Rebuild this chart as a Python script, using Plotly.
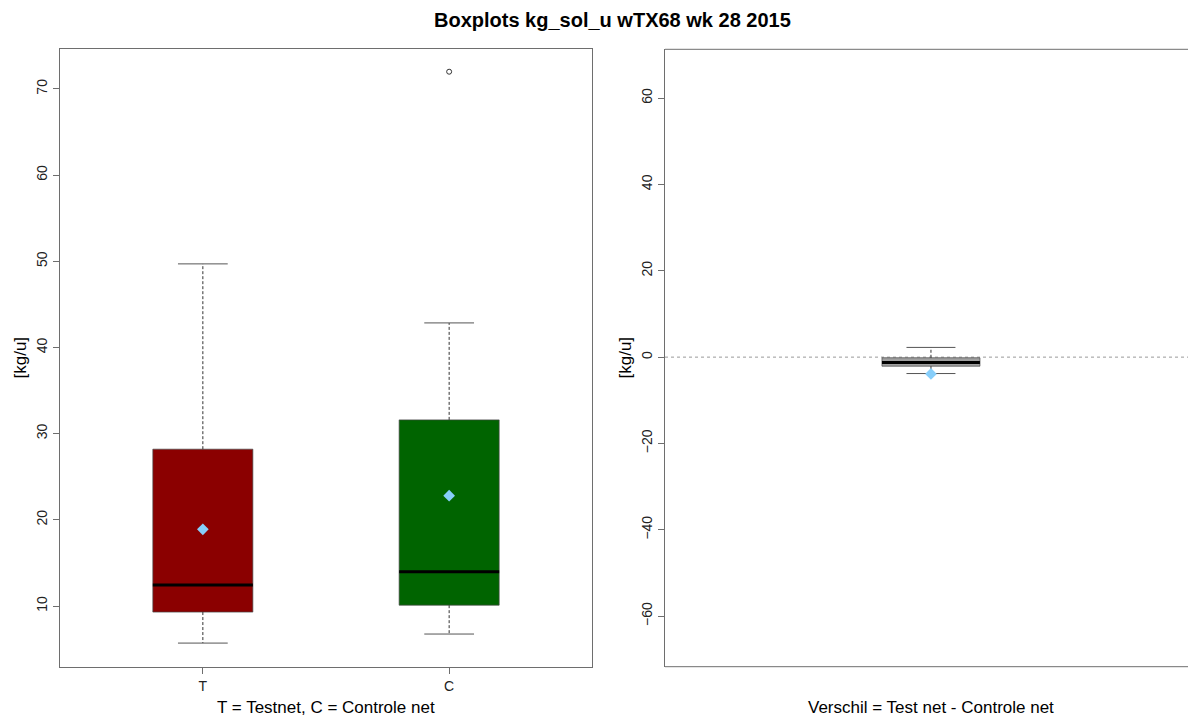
import plotly.graph_objects as go

# ---- data ----
categories = ["T", "C"]
q1 = [9.3, 10.1]
median = [12.45, 13.98]
q3 = [28.2, 31.6]
lower_whisker = [5.7, 6.75]
upper_whisker = [49.7, 42.85]
means = [18.9, 22.8]
fills = ["#8B0000", "#006400"]
outlier_cat = ["C"]
outlier_val = [72.0]

diff_label = ["Verschil"]
diff_q1 = [-2.1]
diff_median = [-1.25]
diff_q3 = [-0.15]
diff_lower = [-3.8]
diff_upper = [2.25]
diff_mean = [-3.9]

left_ticks = [10, 20, 30, 40, 50, 60, 70]
right_ticks = [-60, -40, -20, 0, 20, 40, 60]

FONT = "Liberation Sans, Arial, sans-serif"
AXC = "#6e6e6e"
W, H = 1188, 714   # page body has an 8px margin

fig = go.Figure()


def add_box(fig, pos, lo, a, m, b, hi, mean, fill, bw, cw, xa, ya):
    fig.add_trace(go.Scatter(
        x=[pos - bw, pos + bw, pos + bw, pos - bw, pos - bw],
        y=[a, a, b, b, a], mode="lines", fill="toself", fillcolor=fill,
        line=dict(color="rgba(70,70,70,0.7)", width=1),
        hoverinfo="skip", showlegend=False, xaxis=xa, yaxis=ya))
    for y0, y1 in ((b, hi), (a, lo)):
        fig.add_trace(go.Scatter(
            x=[pos, pos], y=[y0, y1], mode="lines",
            line=dict(color="#333333", width=1, dash="3px,2px"),
            hoverinfo="skip", showlegend=False, xaxis=xa, yaxis=ya))
    for yv in (hi, lo):
        fig.add_trace(go.Scatter(
            x=[pos - cw, pos + cw], y=[yv, yv], mode="lines",
            line=dict(color="#555555", width=1),
            hoverinfo="skip", showlegend=False, xaxis=xa, yaxis=ya))
    fig.add_trace(go.Scatter(
        x=[pos - bw, pos + bw], y=[m, m], mode="lines",
        line=dict(color="black", width=3),
        hoverinfo="skip", showlegend=False, xaxis=xa, yaxis=ya))
    fig.add_trace(go.Scatter(
        x=[pos], y=[mean], mode="markers",
        marker=dict(symbol="diamond", size=9, color="#87CEFA"),
        hoverinfo="skip", showlegend=False, xaxis=xa, yaxis=ya))


positions = list(range(1, len(categories) + 1))
for i, cat in enumerate(categories):
    add_box(fig, positions[i], lower_whisker[i], q1[i], median[i], q3[i],
            upper_whisker[i], means[i], fills[i], 0.203, 0.101, "x", "y")

fig.add_trace(go.Scatter(
    x=[positions[categories.index(c)] for c in outlier_cat], y=outlier_val,
    mode="markers",
    marker=dict(symbol="circle-open", size=5, color="#333333", line=dict(width=1)),
    hoverinfo="skip", showlegend=False, xaxis="x", yaxis="y"))

add_box(fig, 1, diff_lower[0], diff_q1[0], diff_median[0], diff_q3[0],
        diff_upper[0], diff_mean[0], "#A0A0A0", 0.107, 0.0535, "x2", "y2")

tickfont = dict(family=FONT, size=14, color="#222222")
common_axis = dict(showgrid=False, zeroline=False, showline=True,
                   linecolor=AXC, linewidth=1, ticks="outside", ticklen=6,
                   tickcolor=AXC, tickfont=tickfont)

ydom = [1 - 658.7 / H, 1 - 41.3 / H]
fig.update_layout(
    width=W, height=H,
    margin=dict(l=0, r=0, t=0, b=0),
    paper_bgcolor="white", plot_bgcolor="white",
    showlegend=False,
    xaxis=dict(domain=[52 / W, 584 / W], range=[0.42, 2.58],
               tickvals=positions, ticktext=categories, mirror=True,
               anchor="y", automargin=False, **common_axis),
    yaxis=dict(domain=ydom, range=[2.96, 74.6],
               tickvals=left_ticks, tickangle=-90, mirror=True,
               anchor="x", automargin=False, **common_axis),
    xaxis2=dict(domain=[657 / W, 1.0], range=[0.419, 1.579],
                showticklabels=False, anchor="y2", automargin=False,
                **{**common_axis, "ticks": "", "showline": False}),
    yaxis2=dict(domain=ydom, range=[-71.7, 71.3],
                tickvals=right_ticks, tickangle=-90, mirror=False,
                anchor="x2", automargin=False, **common_axis),
)

# top / bottom border of the right panel (its right edge lies off the page)
for yv in (0, 1):
    fig.add_shape(type="line", xref="x2 domain", yref="y2 domain",
                  x0=0, x1=1.02, y0=yv, y1=yv, line=dict(color=AXC, width=1))

fig.add_shape(type="line", xref="x2 domain", yref="y2", x0=0, x1=1, y0=0, y1=0,
              line=dict(color="#999999", width=1, dash="dot"), layer="below")


def ann(text, x, y, size, angle=0):
    fig.add_annotation(text=text, x=x / W, y=1 - y / H, xref="paper", yref="paper",
                       xanchor="center", yanchor="middle", textangle=angle,
                       showarrow=False, font=dict(family=FONT, size=size, color="black"))


ann("<b>Boxplots kg_sol_u wTX68 wk 28 2015</b>", 604, 12, 20)
ann("T = Testnet, C = Controle net", 318, 699, 17)
ann("Verschil = Test net - Controle net", 923, 699, 17)
ann("[kg/u]", 11.5, 350, 17, -90)
ann("[kg/u]", 616.5, 350, 17, -90)

fig.write_html("out.html")
